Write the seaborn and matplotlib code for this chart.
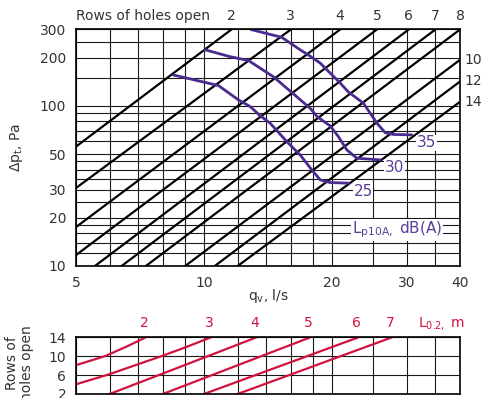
import pandas as pd
import seaborn as sns
import matplotlib
matplotlib.use('Agg')
import matplotlib.pyplot as plt
from matplotlib.ticker import NullLocator

# grid lines and labelled ticks
q_grid = [5, 6, 7, 8, 9, 10, 12, 14, 16, 18, 20, 25, 30, 35, 40]
q_labels = [5, 10, 20, 30, 40]
dp_grid = [10, 12, 14, 16, 18, 20, 25, 30, 35, 40, 45, 50, 60, 70, 80, 90,
           100, 150, 200, 250, 300]
dp_labels = [10, 20, 30, 50, 100, 200, 300]
row_ticks = [2, 6, 10, 14]

# black lines, rows of holes open (end points read at the chart edges)
rows = [2, 3, 4, 5, 6, 7, 8, 10, 12, 14]
rows_q_start = [5, 5, 5, 5, 5.54, 6.4, 7.3, 9.03, 10.6, 12.0]
rows_dp_start = [55.7, 30.7, 17.5, 11.7, 10, 10, 10, 10, 10, 10]
rows_q_end = [11.6, 16.0, 20.9, 25.5, 30.3, 35.0, 40, 40, 40, 40]
rows_dp_end = [300, 300, 300, 300, 300, 300, 300, 194, 142, 106]

# sound level curves Lp10A, dB(A)
levels = [25, 30, 35]
lp25_q = [8.47, 10.81, 12.05, 12.84, 13.55, 14.3, 15.66, 16.83, 17.93,
          18.76, 19.8, 21.86]
lp25_dp = [156, 134, 109, 99, 86.9, 78, 59.8, 49.4, 39.8, 34.5, 33.2, 32.9]
lp30_q = [10.06, 11.51, 12.72, 14.56, 16.22, 17.76, 18.48, 19.8, 20.7,
          21.67, 22.88, 25.96]
lp30_dp = [224, 203, 192, 152, 119, 96.7, 85.4, 75, 64.3, 53.1, 47.1, 46]
lp35_q = [12.89, 15.24, 16.83, 17.6, 18.76, 19.45, 20.9, 21.86, 23.7, 24.15,
          25.03, 25.5, 26.67, 27.9, 30.8]
lp35_dp = [300, 268, 224, 208, 185, 168, 139, 122, 104, 96.7, 84, 78, 68,
           66.3, 65.9]

# throw L0.2, m (bottom panel)
throw = [2, 3, 4, 5, 6, 7]
throw_q = [[5, 5.85, 6.6, 7.3], [5, 6, 7, 8, 9, 10.4], [6, 9, 13.3],
           [8, 17.8], [10, 23.1], [12, 27.7]]
throw_rows = [[8.1, 10, 12.1, 14], [4.05, 6.2, 8.3, 10.1, 11.8, 14],
              [2, 8.1, 14], [2, 14], [2, 14], [2, 14]]

PURPLE = '#4b2b8f'
PURPLE_TXT = '#5a3f98'
RED = '#d0123f'
TXT = '#333333'


def style_axis(ax, ylog=True):
    ax.set_xscale('log')
    if ylog:
        ax.set_yscale('log')
    ax.set_xlim(5, 40)
    ax.xaxis.set_minor_locator(NullLocator())
    ax.yaxis.set_minor_locator(NullLocator())
    ax.grid(True, color='#1a1a1a', linewidth=0.8)
    ax.tick_params(length=0, labelsize=10, labelcolor=TXT, pad=7)
    for s in ax.spines.values():
        s.set_visible(True)
        s.set_color('black')
        s.set_linewidth(1.2)
    ax.set_xlabel('')
    ax.set_ylabel('')


def main():
    sns.set_theme(style='white')
    plt.rcParams['font.family'] = ['DejaVu Sans']
    fig = plt.figure(figsize=(4.82, 3.98), dpi=100)
    top = fig.add_axes([0.1577, 0.3317, 0.7967, 0.5942])
    bot = fig.add_axes([0.1577, 0.0101, 0.7967, 0.1425])

    # pressure lines
    lines = pd.DataFrame({
        'rows': rows * 2,
        'q': rows_q_start + rows_q_end,
        'dp': rows_dp_start + rows_dp_end,
    })
    sns.lineplot(data=lines, x='q', y='dp', units='rows', estimator=None,
                 color='black', linewidth=1.6, ax=top)

    curves = pd.DataFrame({
        'level': [25] * len(lp25_q) + [30] * len(lp30_q) + [35] * len(lp35_q),
        'q': lp25_q + lp30_q + lp35_q,
        'dp': lp25_dp + lp30_dp + lp35_dp,
    })
    sns.lineplot(data=curves, x='q', y='dp', units='level', estimator=None,
                 sort=False, color=PURPLE, linewidth=2.0, ax=top)

    style_axis(top)
    top.set_ylim(10, 300)
    top.set_xticks(q_grid)
    top.set_xticklabels([str(v) if v in q_labels else '' for v in q_grid])
    top.set_yticks(dp_grid)
    top.set_yticklabels([str(v) if v in dp_labels else '' for v in dp_grid])

    top.set_xlabel('q$_{\\mathregular{v}}$, l/s', fontsize=10, color=TXT,
                   labelpad=-2)
    top.set_ylabel('Δp$_{\\mathregular{t}}$, Pa', fontsize=10, color=TXT)
    top.yaxis.set_label_coords(-0.132, 0.5)

    top.text(0.0, 1.055, 'Rows of holes open', transform=top.transAxes,
             ha='left', va='center', fontsize=10, color=TXT)
    for n, qe, de in zip(rows, rows_q_end, rows_dp_end):
        if de >= 300:
            top.annotate(str(n), (qe, de), xytext=(0, 13),
                         textcoords='offset pixels', ha='center',
                         va='center', fontsize=10, color=TXT,
                         annotation_clip=False)
        else:
            top.annotate(str(n), (qe, de), xytext=(4, 0),
                         textcoords='offset pixels', ha='left',
                         va='center', fontsize=10, color=TXT,
                         annotation_clip=False)

    for lev, qs, ds in zip(levels, [lp25_q, lp30_q, lp35_q],
                           [lp25_dp, lp30_dp, lp35_dp]):
        top.annotate(str(lev), (qs[-1], ds[-1]), xytext=(5, -8),
                     textcoords='offset pixels', ha='left', va='center',
                     fontsize=11, color=PURPLE_TXT,
                     bbox=dict(facecolor='white', edgecolor='none', pad=0.5))

    top.text(0.718, 0.152, 'L$_{\\mathregular{p10A,}}$ dB(A)',
             transform=top.transAxes, ha='left', va='center', fontsize=11,
             color=PURPLE_TXT,
             bbox=dict(facecolor='white', edgecolor='none', pad=0.5))

    # throw lines
    throw_df = pd.DataFrame({
        'throw': [t for t, qs in zip(throw, throw_q) for _ in qs],
        'q': [v for qs in throw_q for v in qs],
        'rows': [v for rs in throw_rows for v in rs],
    })
    sns.lineplot(data=throw_df, x='q', y='rows', units='throw',
                 estimator=None, sort=False, color=RED, linewidth=1.6,
                 ax=bot)
    style_axis(bot, ylog=False)
    bot.set_ylim(2, 14)
    bot.set_xticks(q_grid)
    bot.set_xticklabels([])
    bot.set_yticks(row_ticks)
    bot.set_ylabel('Rows of\nholes open', fontsize=10, color=TXT,
                   linespacing=1.1)
    bot.yaxis.set_label_coords(-0.109, 0.55)
    for t, qs, rs in zip(throw, throw_q, throw_rows):
        bot.annotate(str(t), (qs[-1], rs[-1]), xytext=(-2, 14),
                     textcoords='offset pixels', ha='center', va='center',
                     fontsize=10, color=RED, annotation_clip=False)
    bot.text(0.89, 1.25, 'L$_{\\mathregular{0.2,}}$ m', transform=bot.transAxes,
             ha='left', va='center', fontsize=10, color=RED)

    fig.savefig('out.png', dpi=100)


if __name__ == '__main__':
    main()
